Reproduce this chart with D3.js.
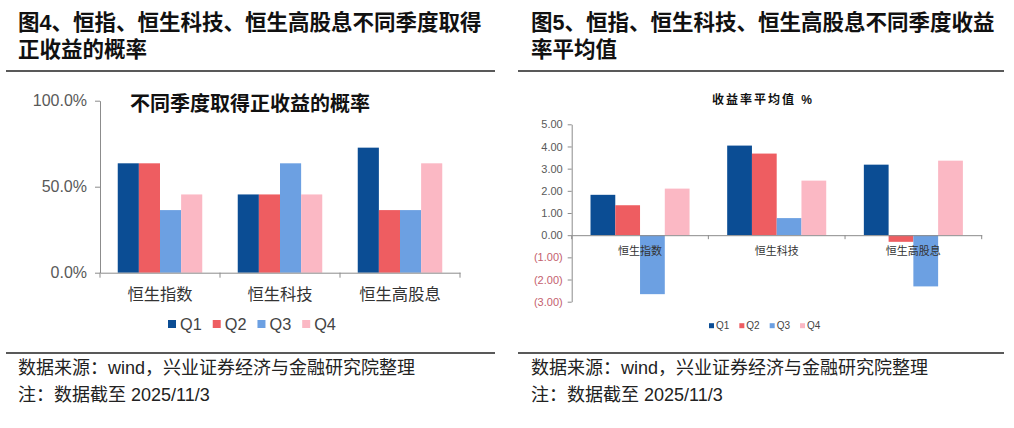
<!DOCTYPE html>
<html>
<head>
<meta charset="utf-8">
<script src="https://cdn.jsdelivr.net/npm/d3@7"></script>
<style>
  body { margin: 0; background: #fff; }
  svg { display: block; font-family: "Liberation Sans", Arial, "Noto Sans CJK SC", sans-serif; }
  .axis path, .axis line { stroke: #8c8c8c; }
</style>
</head>
<body>
<svg id="chart" width="1014" height="428"></svg>
<script>
// data
var categories = ["恒生指数", "恒生科技", "恒生高股息"];
var quarters = ["Q1", "Q2", "Q3", "Q4"];
var colors = ["#0B4D94", "#EE5D61", "#6CA0E2", "#FBB8C4"];

// fig 4: probability of positive return, by quarter
var probQ1 = [0.636, 0.455, 0.727];
var probQ2 = [0.636, 0.455, 0.364];
var probQ3 = [0.364, 0.636, 0.364];
var probQ4 = [0.455, 0.455, 0.636];
var probTicks = [0, 0.5, 1];

// fig 5: mean quarterly return, %
var retQ1 = [1.82, 4.04, 3.18];
var retQ2 = [1.35, 3.68, -0.30];
var retQ3 = [-2.66, 0.77, -2.31];
var retQ4 = [2.10, 2.46, 3.36];
var retTicks = [-3, -2, -1, 0, 1, 2, 3, 4, 5];

var headers = [
    ["图4、恒指、恒生科技、恒生高股息不同季度取得", "正收益的概率"],
    ["图5、恒指、恒生科技、恒生高股息不同季度收益", "率平均值"]
];
var sourceText = "数据来源：wind，兴业证券经济与金融研究院整理";
var noteText = "注：数据截至 2025/11/3";

var svg = d3.select("#chart");
var cjk = "'Noto Sans CJK SC', 'Liberation Sans', sans-serif";

function toRows(series) {
    return categories.map(function(c, i) {
        return {cat: c, vals: series.map(function(s, k) { return {q: quarters[k], v: s[i], k: k}; })};
    });
}

// ---- headers and footers for both panels
[{x: 18, l: 6, r: 495}, {x: 531, l: 518, r: 1004}].forEach(function(p, i) {
    var g = svg.append("g");
    // wrapped title: one text, two lines
    var ht = g.append("text")
        .attr("font-size", 21.5).attr("font-weight", "bold")
        .attr("fill", "#111");
    headers[i].forEach(function(line, j) {
        ht.append("tspan").attr("x", p.x).attr("y", 30 + j * 27).text(line);
    });
    g.append("line").attr("x1", p.l).attr("x2", p.r).attr("y1", 71).attr("y2", 71)
        .attr("stroke", "#222").attr("stroke-width", 1.3);
    g.append("line").attr("x1", p.l).attr("x2", p.r).attr("y1", 353).attr("y2", 353)
        .attr("stroke", "#222").attr("stroke-width", 1.3);
    g.append("text").attr("x", p.x).attr("y", 374)
        .attr("font-size", 18).attr("fill", "#222")
        .text(sourceText);
    g.append("text").attr("x", p.x).attr("y", 401)
        .attr("font-size", 18).attr("fill", "#222")
        .text(noteText);
});

// ---- generic grouped bar chart
function barChart(opt) {
    var g = svg.append("g");
    var rows = toRows(opt.series);

    var x0 = d3.scaleBand().domain(categories).range([opt.left, opt.right]).padding(0);
    var x1 = d3.scaleBand().domain(quarters).range([0, x0.bandwidth()])
        .paddingInner(0).paddingOuter(opt.outer);
    var y = d3.scaleLinear().domain(opt.domain).range([opt.bottom, opt.top]);

    // bars
    g.append("g").selectAll("g").data(rows).enter().append("g")
        .attr("transform", function(d) { return "translate(" + x0(d.cat) + ",0)"; })
        .selectAll("rect").data(function(d) { return d.vals; }).enter().append("rect")
        .attr("x", function(d) { return x1(d.q); })
        .attr("width", x1.bandwidth())
        .attr("y", function(d) { return y(Math.max(0, d.v)); })
        .attr("height", function(d) { return Math.abs(y(d.v) - y(0)); })
        .attr("fill", function(d) { return colors[d.k]; });

    // y axis
    var ya = g.append("g").attr("class", "axis")
        .attr("transform", "translate(" + opt.left + ",0)")
        .call(d3.axisLeft(y).tickValues(opt.ticks).tickFormat(opt.fmt)
            .tickSize(opt.tickLen).tickSizeOuter(0).tickPadding(opt.tickPad));
    ya.selectAll("text")
        .attr("font-family", null)
        .attr("font-size", opt.tickFont)
        .attr("fill", function(d) { return d < 0 ? "#C4606E" : "#595959"; });

    // x axis: labels centred, ticks on category borders
    var xa = g.append("g").attr("class", "axis")
        .attr("transform", "translate(0," + y(0) + ")")
        .call(d3.axisBottom(x0).tickSize(0).tickSizeOuter(0).tickPadding(opt.catPad));
    xa.selectAll("text")
        .attr("font-family", cjk).attr("font-size", opt.catFont).attr("fill", "#333");
    xa.selectAll(".border").data(categories.concat(["end"])).enter().append("line")
        .attr("class", "border")
        .attr("x1", function(d) { return d === "end" ? opt.right : x0(d); })
        .attr("x2", function(d) { return d === "end" ? opt.right : x0(d); })
        .attr("y1", 0).attr("y2", opt.tickLen)
        .attr("stroke", "#8c8c8c");

    // chart title
    g.append("text")
        .attr("x", opt.titleX).attr("y", opt.titleY)
        .attr("text-anchor", opt.titleAnchor)
        .attr("font-weight", "bold")
        .attr("font-size", opt.titleFont).attr("letter-spacing", opt.titleSpacing)
        .attr("fill", "#111")
        .text(opt.title);

    // legend
    var lg = g.append("g").attr("transform", "translate(" + opt.legendX + "," + opt.legendY + ")");
    var off = 0;
    quarters.forEach(function(q, k) {
        var item = lg.append("g").attr("transform", "translate(" + off + ",0)");
        item.append("rect")
            .attr("x", 0).attr("y", -opt.sw / 2)
            .attr("width", opt.sw).attr("height", opt.sw)
            .attr("fill", colors[k]);
        var t = item.append("text")
            .attr("x", opt.sw + opt.swGap).attr("y", opt.legendFont * 0.36)
            .attr("font-size", opt.legendFont).attr("fill", "#444")
            .text(q);
        off += opt.sw + opt.swGap + t.node().getComputedTextLength() + opt.itemGap;
    });
}

barChart({
    series: [probQ1, probQ2, probQ3, probQ4],
    left: 100, right: 460, top: 100.7, bottom: 272.7,
    domain: [0, 1], ticks: probTicks, fmt: d3.format(".1%"),
    outer: 0.84, tickLen: 5, tickPad: 8, tickFont: 16,
    catPad: 16, catFont: 16.3,
    title: "不同季度取得正收益的概率", titleX: 130, titleY: 111, titleAnchor: "start",
    titleFont: 20, titleSpacing: 0,
    legendX: 168, legendY: 324, sw: 8, swGap: 4, legendFont: 16.3, itemGap: 11
});

barChart({
    series: [retQ1, retQ2, retQ3, retQ4],
    left: 571.7, right: 981.7, top: 124.3, bottom: 301.7,
    domain: [-3, 5], ticks: retTicks,
    fmt: function(v) { var s = d3.format(".2f")(Math.abs(v)); return v < 0 ? "(" + s + ")" : s; },
    outer: 0.76, tickLen: 4, tickPad: 5, tickFont: 11,
    catPad: 12, catFont: 11,
    title: "收益率平均值 %", titleX: 763, titleY: 104, titleAnchor: "middle",
    titleFont: 12, titleSpacing: 2,
    legendX: 709, legendY: 325.7, sw: 5, swGap: 2, legendFont: 10, itemGap: 10
});
</script>
</body>
</html>
